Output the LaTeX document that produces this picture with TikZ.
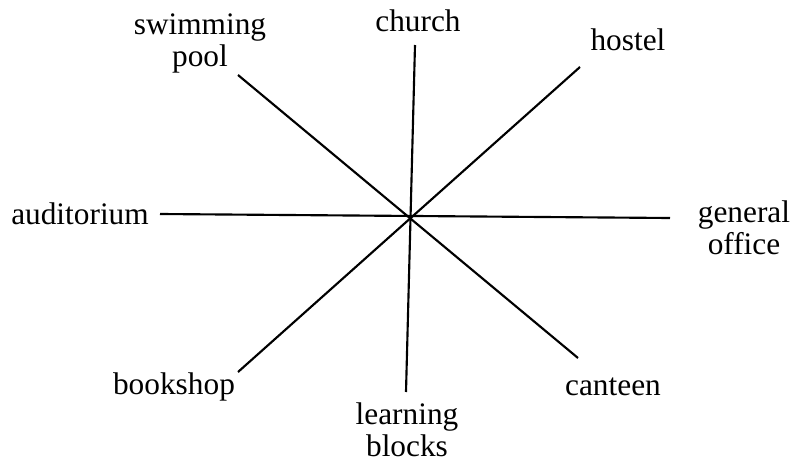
\documentclass[tikz,border=0pt]{standalone}
\usepackage{fontspec}
\setmainfont{Liberation Serif}
\usepackage{tikz}

\begin{document}
\begin{tikzpicture}[
        x=0.75pt, y=-0.75pt,
        every node/.style={font=\fontsize{23.5}{24}\selectfont, align=center, inner sep=0pt},
        spoke/.style={draw=black, line width=1.6pt}
    ]
    \useasboundingbox (0,0) rectangle (794,464);
    % place names
    \node (pool)     at (200,43)  {swimming\\pool};
    \node (church)   at (418,21)  {church};
    \node (hostel)   at (628,40)  {hostel};
    \node (audit)    at (80,214)  {auditorium};
    \node (office)   at (744,228) {general\\office};
    \node (bookshop) at (174,387) {bookshop};
    \node (learning) at (407,430) {learning\\blocks};
    \node (canteen)  at (613,387) {canteen};
    % ends of the spokes
    \coordinate (pool end)     at (238,75);
    \coordinate (church end)   at (415,45);
    \coordinate (hostel end)   at (580,67);
    \coordinate (audit end)    at (160,214);
    \coordinate (office end)   at (670,218);
    \coordinate (bookshop end) at (238,372);
    \coordinate (learning end) at (406,392);
    \coordinate (canteen end)  at (578,358);
    \draw[spoke] (church end) -- (learning end);
    \draw[spoke] (audit end) -- (office end);
    \draw[spoke] (pool end) -- (canteen end);
    \draw[spoke] (hostel end) -- (bookshop end);
\end{tikzpicture}
\end{document}
